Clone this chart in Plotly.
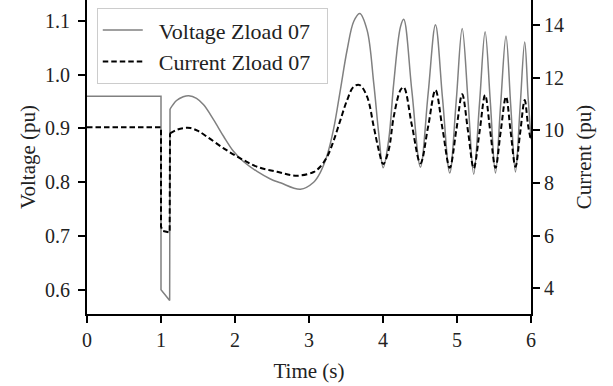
import plotly.graph_objects as go

# ---- Zload 07 bus quantities -------------------------------------------
# Pre-fault and fault-on interval (straight segments, step changes at the fault)
t_fault_v = [0.0, 1.0, 1.0, 1.117, 1.122]
volt_fault = [0.960, 0.960, 0.600, 0.580, 0.936]

t_fault_i = [0.0, 1.0, 1.0, 1.02, 1.117, 1.122]
curr_fault = [10.12, 10.12, 6.35, 6.19, 6.12, 9.89]

# Post-fault recovery and oscillation (voltage, pu)
t_post_v = [1.122, 1.21, 1.30, 1.375, 1.48, 1.576, 1.712, 1.847, 1.982, 2.117,
            2.298, 2.478, 2.613, 2.884, 3.063, 3.152, 3.245, 3.334, 3.424, 3.515,
            3.604, 3.685, 3.785, 3.875, 3.942, 4.002, 4.077, 4.145, 4.236, 4.28,
            4.39, 4.506, 4.61, 4.709, 4.805, 4.902, 4.99, 5.07, 5.15, 5.226,
            5.305, 5.38, 5.45, 5.52, 5.59, 5.662, 5.725, 5.79, 5.853, 5.915,
            5.96, 6.0]
volt_post = [0.936, 0.952, 0.959, 0.961, 0.956, 0.944, 0.916, 0.885, 0.857, 0.838,
             0.820, 0.806, 0.799, 0.787, 0.800, 0.818, 0.850, 0.900, 0.972, 1.046,
             1.099, 1.114, 1.083, 0.984, 0.891, 0.827, 0.879, 0.984, 1.089, 1.103,
             0.970, 0.828, 0.965, 1.093, 0.955, 0.817, 0.952, 1.086, 0.950, 0.815,
             0.948, 1.080, 0.950, 0.817, 0.945, 1.072, 0.945, 0.819, 0.940, 1.061,
             0.960, 0.880]

# Post-fault recovery and oscillation (current, pu)
t_post_i = [1.122, 1.22, 1.31, 1.397, 1.50, 1.622, 1.847, 2.072, 2.298, 2.569,
            2.84, 3.063, 3.152, 3.245, 3.334, 3.424, 3.515, 3.604, 3.685, 3.785,
            3.875, 3.942, 4.002, 4.077, 4.145, 4.236, 4.28, 4.39, 4.506, 4.61,
            4.709, 4.805, 4.902, 4.99, 5.07, 5.15, 5.226, 5.305, 5.38, 5.45,
            5.52, 5.59, 5.662, 5.725, 5.79, 5.853, 5.915, 5.96, 6.0]
curr_post = [9.89, 10.03, 10.09, 10.09, 9.98, 9.76, 9.32, 8.94, 8.62, 8.43,
             8.28, 8.42, 8.62, 9.00, 9.62, 10.39, 11.15, 11.66, 11.72, 11.28,
             10.14, 9.26, 8.72, 9.26, 10.52, 11.53, 11.64, 10.20, 8.75, 10.15,
             11.53, 10.05, 8.58, 10.00, 11.37, 9.95, 8.56, 9.95, 11.34, 9.95,
             8.58, 9.95, 11.28, 9.95, 8.62, 9.90, 11.15, 10.20, 9.60]

# Axis ticks
time_ticks = [0, 1, 2, 3, 4, 5, 6]
volt_ticks = [0.6, 0.7, 0.8, 0.9, 1.0, 1.1]
curr_ticks = [4, 6, 8, 10, 12, 14]

FONT = "Liberation Serif"
GREY = "#808080"
TEXT = "#222222"
PAD = "\u2002"  # en space around legend labels for breathing room

fig = go.Figure()

fig.add_trace(go.Scatter(
    x=t_fault_v, y=volt_fault, mode="lines", yaxis="y",
    line=dict(color=GREY, width=1.5), showlegend=False, hoverinfo="skip"))
fig.add_trace(go.Scatter(
    x=t_post_v, y=volt_post, mode="lines", yaxis="y",
    name=PAD + "Voltage Zload 07" + PAD,
    line=dict(color=GREY, width=1.5, shape="spline", smoothing=1.0)))

fig.add_trace(go.Scatter(
    x=t_fault_i, y=curr_fault, mode="lines", yaxis="y2",
    line=dict(color="black", width=2, dash="5.5px,3px"),
    showlegend=False, hoverinfo="skip"))
fig.add_trace(go.Scatter(
    x=t_post_i, y=curr_post, mode="lines", yaxis="y2",
    name=PAD + "Current Zload 07" + PAD,
    line=dict(color="black", width=2, dash="5.5px,3px", shape="spline",
              smoothing=1.0)))

axis_common = dict(
    showline=True, linecolor="black", linewidth=2,
    ticks="outside", ticklen=7, tickwidth=2, tickcolor="black",
    showgrid=False, zeroline=False,
    tickfont=dict(family=FONT, size=20, color=TEXT),
)

fig.update_layout(
    width=613, height=386,
    margin=dict(l=87, r=82, t=0, b=72),
    paper_bgcolor="white", plot_bgcolor="white",
    font=dict(family=FONT, size=21, color=TEXT),
    xaxis=dict(
        range=[0, 6], tickvals=time_ticks, **axis_common,
        title=dict(text="Time (s)", font=dict(family=FONT, size=21),
                   standoff=13),
    ),
    yaxis=dict(
        range=[0.5548, 1.139], tickvals=volt_ticks, tickformat=".1f",
        ticklabelstandoff=4, **axis_common,
        title=dict(text="Voltage (pu)", font=dict(family=FONT, size=21),
                   standoff=4),
    ),
    yaxis2=dict(
        range=[3.03, 14.95], tickvals=curr_ticks, overlaying="y",
        side="right", **axis_common,
        title=dict(text="Current (pu)", font=dict(family=FONT, size=21),
                   standoff=13),
    ),
    legend=dict(
        x=0.022, y=0.974, xanchor="left", yanchor="top",
        bgcolor="rgba(255,255,255,0.8)", bordercolor="#cccccc", borderwidth=1,
        font=dict(family=FONT, size=22, color=TEXT),
        itemwidth=40, tracegroupgap=0,
    ),
    showlegend=True,
)

fig.write_html("out.html")
